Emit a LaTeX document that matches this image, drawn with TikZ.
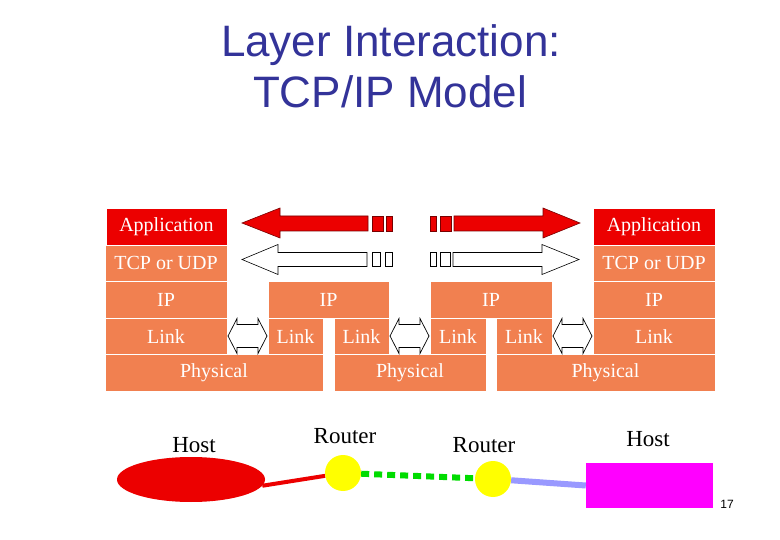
\documentclass[tikz,border=0pt]{standalone}
\usepackage{fontspec}
\setmainfont{Liberation Serif}
\newfontfamily\titlefont{Liberation Sans}
\usetikzlibrary{shapes.geometric}
\definecolor{layerorange}{RGB}{241,128,80}
\definecolor{appred}{RGB}{236,0,0}
\definecolor{titleblue}{RGB}{51,51,153}
\definecolor{linkgreen}{RGB}{0,220,0}
\definecolor{linkblue}{RGB}{153,153,255}
\definecolor{hostmagenta}{RGB}{255,0,255}
\definecolor{arrowred}{RGB}{120,0,0}
\definecolor{routeryellow}{RGB}{255,255,0}
\newcommand\dblarr[3]{%
  \draw[dblarrowstyle] (#1,#3) -- (#1+9,#3-17.5) -- (#1+9,#3-11.5) -- (#2-9,#3-11.5) -- (#2-9,#3-17.5) -- (#2,#3)
    -- (#2-9,#3+17.5) -- (#2-9,#3+11.5) -- (#1+9,#3+11.5) -- (#1+9,#3+17.5) -- cycle;}
\begin{document}
\begin{tikzpicture}[x=1pt,y=-1pt,
  layer/.style={draw=white, line width=0.8pt, fill=layerorange, text=white,
    font=\fontsize{20}{20}\selectfont, inner sep=0pt, minimum height=36.5pt},
  app/.style={layer, fill=appred},
  lbl/.style={font=\fontsize{23}{23}\selectfont, text=black, inner sep=0pt},
  title/.style={font=\titlefont\fontsize{44}{44}\selectfont, text=titleblue, anchor=base, inner sep=0pt},
  redarrow/.style={fill=appred, draw=arrowred, line width=0.6pt},
  whitearrow/.style={fill=white, draw=black, line width=0.6pt},
  dblarrowstyle/.style={fill=white, draw=black, line width=0.7pt},
  router/.style={circle, fill=routeryellow, minimum size=36pt, inner sep=0pt},
]
\useasboundingbox (0,0) rectangle (780,540);
\fill[white] (0,0) rectangle (780,540);

% title
\node[title] (t1) at (391,57) {Layer Interaction:};
\node[title] (t2) at (390,108) {TCP/IP Model};

% left host stack
\node[app, minimum width=121pt] (lapp) at (166.5,226.75) {Application};
\node[layer, minimum width=122pt] (ltcp) at (166,263.25) {TCP or UDP};
\node[layer, minimum width=122pt] (lip) at (166,299.75) {IP};
\node[layer, minimum width=122pt] (llink) at (166,336.25) {Link};
\node[layer, minimum width=218pt] (lphy) at (214,372.75) {Physical};

% router 1
\node[layer, minimum width=121pt] (r1ip) at (328.5,299.75) {IP};
\node[layer, minimum width=55pt] (r1la) at (295.5,336.25) {Link};
\node[layer, minimum width=55pt] (r1lb) at (361.5,336.25) {Link};
\node[layer, minimum width=152pt] (mphy) at (410,372.75) {Physical};

% router 2
\node[layer, minimum width=122pt] (r2ip) at (491,299.75) {IP};
\node[layer, minimum width=56pt] (r2la) at (458,336.25) {Link};
\node[layer, minimum width=56pt] (r2lb) at (524,336.25) {Link};
\node[layer, minimum width=219pt] (rphy) at (605.5,372.75) {Physical};

% right host stack
\node[app, minimum width=122pt] (rapp) at (654,226.75) {Application};
\node[layer, minimum width=122pt] (rtcp) at (654,263.25) {TCP or UDP};
\node[layer, minimum width=122pt] (rip) at (654,299.75) {IP};
\node[layer, minimum width=122pt] (rlink) at (654,336.25) {Link};

% link double arrows
\dblarr{228}{267}{336}
\dblarr{390}{429}{336}
\dblarr{553}{592}{336}

% application arrows (red)
\draw[redarrow] (242,223) -- (280,208) -- (280,216) -- (368,216) -- (368,231) -- (280,231) -- (280,238) -- cycle;
\draw[redarrow] (372,216) rectangle (383,231);
\draw[redarrow] (386,216) rectangle (392,231);
\draw[redarrow] (580,223) -- (543,208) -- (543,216) -- (454,216) -- (454,231) -- (543,231) -- (543,238) -- cycle;
\draw[redarrow] (430,216) rectangle (436,231);
\draw[redarrow] (440,216) rectangle (451,231);

% transport arrows (white)
\draw[whitearrow] (242,259.5) -- (278,244.5) -- (278,252.5) -- (367,252.5) -- (367,266.5) -- (278,266.5) -- (278,274.5) -- cycle;
\draw[whitearrow] (372,252.5) rectangle (380,266.5);
\draw[whitearrow] (385,252.5) rectangle (392,266.5);
\draw[whitearrow] (579,259.5) -- (542,244.5) -- (542,252.5) -- (453,252.5) -- (453,266.5) -- (542,266.5) -- (542,274.5) -- cycle;
\draw[whitearrow] (430,252.5) rectangle (436,266.5);
\draw[whitearrow] (440,252.5) rectangle (450,266.5);

% network
\node[ellipse, fill=appred, minimum width=148pt, minimum height=45pt, inner sep=0pt] (host1) at (191,479.5) {};
\node[router] (r1) at (343,473) {};
\node[router] (r2) at (493,479) {};
\node[rectangle, fill=hostmagenta, minimum width=127pt, minimum height=45pt, inner sep=0pt] (host2) at (649.5,485.5) {};

\draw[appred, line width=4pt] (host1.-5) -- (r1);
\draw[linkgreen, line width=6pt, dash pattern=on 8pt off 5pt] (r1) -- (r2);
\draw[linkblue, line width=6pt] (r2) -- (host2.west);

\node[lbl] (h1lbl) at (194,445) {Host};
\node[lbl] (r1lbl) at (345,436) {Router};
\node[lbl] (r2lbl) at (484,445) {Router};
\node[lbl] (h2lbl) at (648,439) {Host};

\node[font=\titlefont\fontsize{12}{12}\selectfont, inner sep=0pt] (pg) at (727,504) {17};
\end{tikzpicture}
\end{document}
